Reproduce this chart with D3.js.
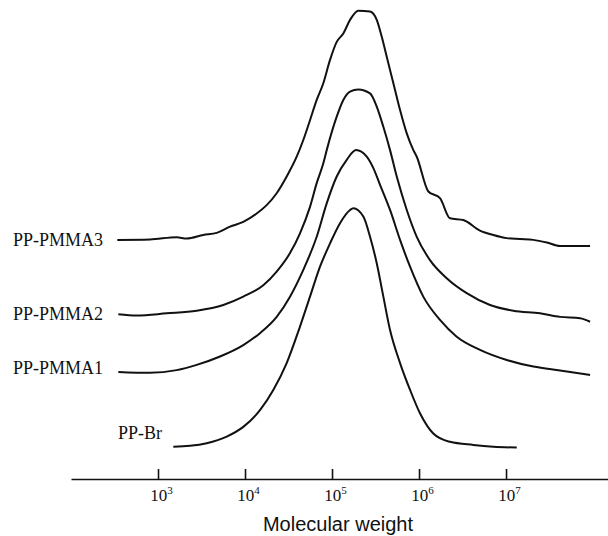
<!DOCTYPE html>
<html>
<head>
<meta charset="utf-8">
<script src="https://cdn.jsdelivr.net/npm/d3@7"></script>
<style>
  html, body { margin: 0; padding: 0; background: #fff; }
  svg { display: block; }
</style>
</head>
<body>
<svg id="chart" width="608" height="536"></svg>
<script>
// ---- Data (log10 of molecular weight, detector response incl. stacking offset) ----
const seriesNames = ["PP-Br", "PP-PMMA1", "PP-PMMA2", "PP-PMMA3"];

const ppBrLogM = [3.176,3.368,3.560,3.790,3.980,4.172,4.325,4.479,4.632,4.747,4.862,4.977,5.092,5.207,5.245,5.360,5.437,5.514,5.590,5.667,5.782,5.897,6.011,6.164,6.356,6.624,6.854,7.123];
const ppBrVal  = [0.3,0.5,1.1,2.6,4.8,8.6,13.2,19.3,27.6,34.4,41.2,46.5,51.1,54.1,54.5,52.6,48.0,42.0,34.4,26.8,19.3,13.2,7.9,3.3,1.4,0.7,0.3,0.1];

const pmma1LogM = [2.544,2.908,3.215,3.445,3.713,3.980,4.172,4.364,4.517,4.670,4.824,4.939,5.054,5.169,5.276,5.399,5.475,5.552,5.667,5.782,5.897,6.049,6.241,6.433,6.701,7.008,7.314,7.621,7.966];
const pmma1Val  = [17.3,17.1,17.7,18.9,20.8,23.4,26.1,29.8,34.4,40.5,48.0,55.6,61.7,65.5,67.7,66.2,63.6,59.8,54.1,47.3,41.2,34.4,29.1,25.3,22.3,20.0,18.5,17.6,16.6];

const pmma2LogM = [2.544,2.755,3.100,3.445,3.751,3.980,4.210,4.364,4.517,4.632,4.747,4.824,4.900,4.939,5.054,5.130,5.207,5.302,5.437,5.514,5.590,5.667,5.744,5.859,5.974,6.126,6.318,6.548,6.816,7.084,7.391,7.621,7.851,7.966];
const pmma2Val  = [30.4,30.1,30.6,31.2,32.5,34.4,37.0,40.1,44.3,48.8,54.8,60.2,64.7,67.7,75.3,79.1,81.0,81.5,80.6,77.6,73.0,67.7,61.7,54.1,48.0,42.7,38.6,35.2,32.5,31.2,30.6,29.8,29.5,28.7];

const pmma3LogM = [2.532,2.908,3.215,3.330,3.521,3.675,3.828,3.980,4.134,4.249,4.364,4.479,4.594,4.670,4.747,4.824,4.900,4.977,5.054,5.130,5.207,5.302,5.437,5.514,5.571,5.629,5.705,5.782,5.859,5.935,5.974,6.107,6.241,6.356,6.509,6.701,6.854,7.008,7.161,7.314,7.468,7.621,7.966];
const pmma3Val  = [47.3,47.4,47.9,47.6,48.4,48.9,50.3,51.4,53.3,55.2,57.9,61.7,66.2,70.0,74.5,79.1,82.9,88.2,92.3,94.2,97.3,99.4,99.2,97.3,93.5,88.9,82.9,76.8,71.5,67.7,66.2,58.3,56.8,52.2,51.8,49.4,48.4,47.7,47.5,47.3,46.7,45.9,45.9];

const tickExponents = [3, 4, 5, 6, 7];
const xAxisTitle = "Molecular weight";

// ---- Build ----
const svg = d3.select("#chart");

const x = d3.scaleLog().domain([1e2, Math.pow(10, 8.172)]).range([71, 608]);
const y = d3.scaleLinear().domain([0, 100]).range([448, 8]);

const series = [
  { name: seriesNames[0], logM: ppBrLogM, val: ppBrVal, lx: 118, ly: 439 },
  { name: seriesNames[1], logM: pmma1LogM, val: pmma1Val, lx: 13, ly: 374 },
  { name: seriesNames[2], logM: pmma2LogM, val: pmma2Val, lx: 13, ly: 320 },
  { name: seriesNames[3], logM: pmma3LogM, val: pmma3Val, lx: 13, ly: 246 }
];

const line = d3.line()
  .x(d => x(Math.pow(10, d[0])))
  .y(d => y(d[1]))
  .curve(d3.curveMonotoneX);

series.forEach(s => {
  const pts = s.logM.map((m, i) => [m, s.val[i]]);
  svg.append("path")
    .datum(pts)
    .attr("d", line)
    .attr("fill", "none")
    .attr("stroke", "#111")
    .attr("stroke-width", 2)
    .attr("stroke-linejoin", "round");
  svg.append("text")
    .attr("x", s.lx)
    .attr("y", s.ly)
    .style("font-family", "'Liberation Serif', 'DejaVu Serif', serif")
    .style("font-size", "18px")
    .attr("fill", "#111")
    .text(s.name);
});

// ---- Axis ----
const axis = d3.axisBottom(x)
  .tickValues(tickExponents.map(e => Math.pow(10, e)))
  .tickSizeInner(-10)
  .tickSizeOuter(0)
  .tickPadding(10)
  .tickFormat(() => "");

const gAxis = svg.append("g")
  .attr("transform", "translate(0,479)")
  .call(axis);

gAxis.select(".domain").attr("stroke", "#111").attr("stroke-width", 1.6);
gAxis.selectAll(".tick line").attr("stroke", "#111").attr("stroke-width", 1.6);

gAxis.selectAll(".tick text")
  .style("font-family", "'Liberation Serif', 'DejaVu Serif', serif")
  .style("font-size", "17px")
  .attr("fill", "#111")
  .attr("x", 3)
  .attr("dy", null)
  .attr("y", 22)
  .each(function(d) {
    const t = d3.select(this);
    t.append("tspan").text("10");
    t.append("tspan")
      .style("font-size", "11px")
      .attr("dy", -7)
      .text(Math.round(Math.log10(d)));
  });

svg.append("text")
  .attr("x", 338)
  .attr("y", 531)
  .attr("text-anchor", "middle")
  .style("font-family", "'Liberation Sans', Arial, sans-serif")
  .style("font-size", "20px")
  .attr("fill", "#111")
  .text(xAxisTitle);
</script>
</body>
</html>
